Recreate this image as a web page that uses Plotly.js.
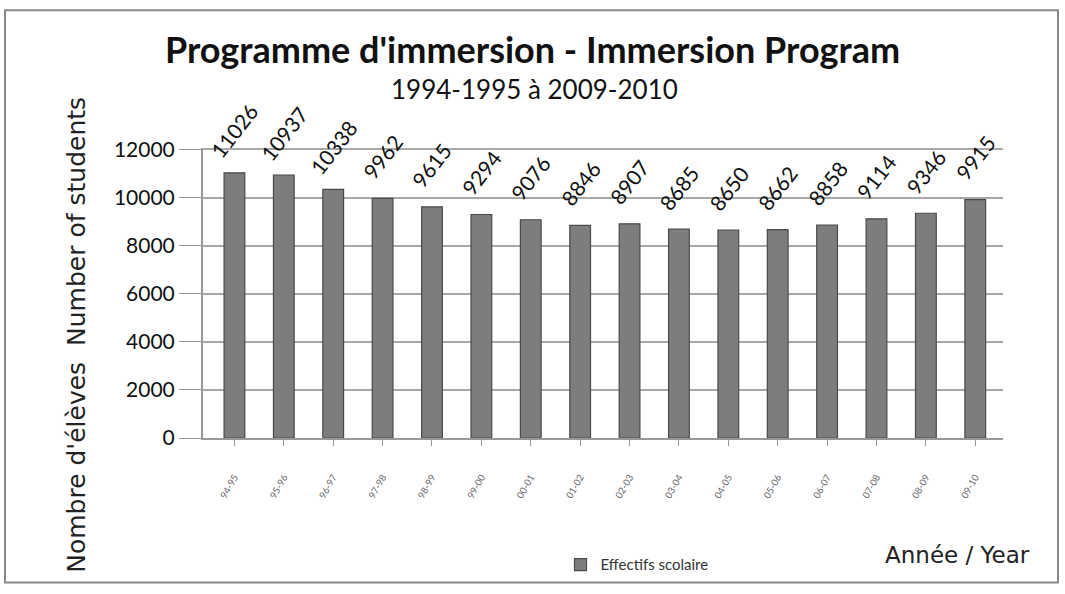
<!DOCTYPE html>
<html>
<head>
<meta charset="utf-8">
<script src="https://cdn.plot.ly/plotly-3.0.1.min.js"></script>
<style>html,body{margin:0;padding:0;background:#fff;}#chart{width:1065px;height:594px;}</style>
</head>
<body>
<div id="chart"></div>
<script>
const categories = ["94-95","95-96","96-97","97-98","98-99","99-00","00-01","01-02","02-03","03-04","04-05","05-06","06-07","07-08","08-09","09-10"];
const enrolment = [11026,10937,10338,9962,9615,9294,9076,8846,8907,8685,8650,8662,8858,9114,9346,9915];
const yTicks = [0,2000,4000,6000,8000,10000,12000];
const seriesName = "Effectifs scolaire";

const labelAnnotations = categories.map((c, i) => ({
  x: c, y: enrolment[i], xref: 'x', yref: 'y',
  text: String(enrolment[i]), showarrow: false,
  textangle: -52, yshift: 42, xanchor: 'center', yanchor: 'middle',
  font: {family: 'Lato, sans-serif', size: 21, color: '#111'}
}));

const trace = {
  type: 'bar', x: categories, y: enrolment, name: seriesName,
  width: 0.42,
  marker: {color: '#7d7d7d', line: {color: '#4a4a4a', width: 1.2}},
  showlegend: true
};

const layout = {
  width: 1065, height: 594,
  margin: {l: 203, r: 62, t: 148, b: 151},
  paper_bgcolor: '#fff', plot_bgcolor: '#fff',
  title: {
    text: "Programme d'immersion - Immersion Program",
    x: 0.5, xref: 'container', xanchor: 'center',
    y: 1 - 50/594, yref: 'container', yanchor: 'middle',
    font: {family: 'Lato, sans-serif', size: 36, color: '#111', weight: 'bold'}
  },
  xaxis: {
    type: 'category', tickangle: -60,
    tickfont: {family: 'Lato, sans-serif', size: 9.5, color: '#666'},
    ticks: 'outside', ticklen: 6, tickcolor: '#999',
    showline: true, linecolor: '#999', linewidth: 2,
    ticklabelstandoff: 22, showgrid: false
  },
  yaxis: {
    range: [0, 12060], tickvals: yTicks, ticktext: yTicks.map(String),
    tickfont: {family: 'Lato, sans-serif', size: 21, color: '#111'},
    ticks: 'outside', ticklen: 22, tickcolor: '#999',
    showline: true, linecolor: '#999', linewidth: 2,
    showgrid: true, gridcolor: '#a8a8a8', gridwidth: 2,
    zeroline: false
  },
  legend: {
    orientation: 'h', x: (637 - 203)/800, xanchor: 'center', y: (443 - 572)/295, yanchor: 'middle',
    font: {family: 'Lato, sans-serif', size: 15, color: '#333'}
  },
  shapes: [{
    type: 'rect', xref: 'paper', yref: 'paper',
    x0: (5 - 203)/800, x1: (1058 - 203)/800,
    y0: (443 - 590)/295, y1: (443 - 8)/295,
    line: {color: '#888', width: 2}, fillcolor: 'rgba(0,0,0,0)', layer: 'below'
  }],
  annotations: labelAnnotations.concat([
    {text: '1994-1995 à 2009-2010', xref: 'paper', yref: 'paper',
     x: (534 - 203)/800, y: (443 - 88)/295, showarrow: false, xanchor: 'center', yanchor: 'middle',
     font: {family: 'Lato, sans-serif', size: 26, color: '#111'}},
    {text: "Nombre d'élèves  Number of students", xref: 'paper', yref: 'paper',
     x: (77 - 203)/800, y: (443 - 338)/295, showarrow: false, textangle: -90,
     xanchor: 'center', yanchor: 'middle',
     font: {family: 'DejaVu Sans, sans-serif', size: 25, color: '#222'}},
    {text: 'Année / Year', xref: 'paper', yref: 'paper',
     x: (1032 - 203)/800, y: (443 - 562)/295, showarrow: false, xanchor: 'right', yanchor: 'middle',
     font: {family: 'DejaVu Sans, sans-serif', size: 23, color: '#222'}}
  ])
};

Plotly.newPlot('chart', [trace], layout, {displayModeBar: false, staticPlot: true});
</script>
</body>
</html>
